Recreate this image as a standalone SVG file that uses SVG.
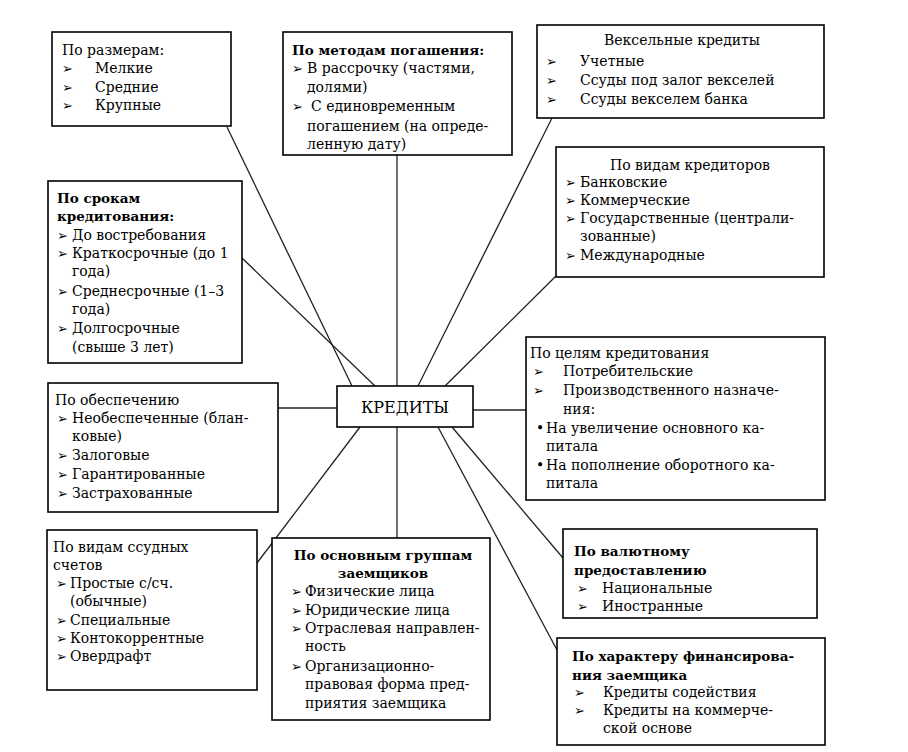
<svg xmlns="http://www.w3.org/2000/svg" width="908" height="752" viewBox="0 0 908 752">
<style>
.box{fill:#fff;stroke:#000;stroke-width:1.6}
.c{stroke:#222;stroke-width:1.3;fill:none}
text{font-family:"DejaVu Serif","Liberation Serif",serif;font-size:14px;fill:#000}
.b{font-weight:bold;font-size:13.5px}
.m{text-anchor:middle}
.ar{font-family:"DejaVu Sans",sans-serif;font-size:13px}
</style>
<rect width="908" height="752" fill="#fff"/>
<g id="connectors">
<line class="c" x1="227" y1="127" x2="352" y2="386"/>
<line class="c" x1="242" y1="258" x2="375" y2="386"/>
<line class="c" x1="397" y1="155" x2="397" y2="386"/>
<line class="c" x1="552" y1="118" x2="418" y2="386"/>
<line class="c" x1="556" y1="276" x2="445" y2="386"/>
<line class="c" x1="473" y1="410" x2="526" y2="410"/>
<line class="c" x1="278" y1="408" x2="337" y2="408"/>
<line class="c" x1="257" y1="563" x2="360" y2="427"/>
<line class="c" x1="397" y1="427" x2="397" y2="538"/>
<line class="c" x1="452" y1="427" x2="563" y2="558"/>
<line class="c" x1="438" y1="427" x2="557" y2="650"/>
</g>
<g id="center">
<rect class="box" x="337" y="386" width="136" height="41"/>
<text class="m" x="405" y="413" style="font-size:16px">КРЕДИТЫ</text>
</g>
<g id="n1">
<rect class="box" x="52" y="32" width="179" height="94"/>
<text x="62" y="55">По размерам:</text>
<text class="ar" x="62" y="73">➢</text><text x="95" y="73">Мелкие</text>
<text class="ar" x="62" y="92">➢</text><text x="95" y="92">Средние</text>
<text class="ar" x="62" y="110">➢</text><text x="95" y="110">Крупные</text>
</g>
<g id="n2">
<rect class="box" x="283" y="32" width="229" height="123"/>
<text class="b" x="292" y="55">По методам погашения:</text>
<text class="ar" x="292" y="73">➢</text><text x="307" y="73">В рассрочку (частями,</text>
<text x="307" y="92">долями)</text>
<text class="ar" x="292" y="111">➢</text><text x="311" y="111">С единовременным</text>
<text x="307" y="131">погашением (на опреде-</text>
<text x="307" y="149">ленную дату)</text>
</g>
<g id="n3">
<rect class="box" x="537" y="25" width="287" height="93"/>
<text class="m" x="682" y="45">Вексельные кредиты</text>
<text class="ar" x="546" y="66">➢</text><text x="580" y="66">Учетные</text>
<text class="ar" x="546" y="85">➢</text><text x="580" y="85">Ссуды под залог векселей</text>
<text class="ar" x="546" y="104">➢</text><text x="580" y="104">Ссуды векселем банка</text>
</g>
<g id="n4">
<rect class="box" x="556" y="147" width="268" height="130"/>
<text class="m" x="690" y="170">По видам кредиторов</text>
<text class="ar" x="565" y="187">➢</text><text x="580" y="187">Банковские</text>
<text class="ar" x="565" y="205">➢</text><text x="580" y="205">Коммерческие</text>
<text class="ar" x="565" y="223">➢</text><text x="580" y="223">Государственные (централи-</text>
<text x="580" y="241">зованные)</text>
<text class="ar" x="565" y="260">➢</text><text x="580" y="260">Международные</text>
</g>
<g id="n5">
<rect class="box" x="48" y="181" width="194" height="182"/>
<text class="b" x="57" y="203">По срокам</text>
<text class="b" x="57" y="221">кредитования:</text>
<text class="ar" x="57" y="240">➢</text><text x="72" y="240">До востребования</text>
<text class="ar" x="57" y="258">➢</text><text x="72" y="258">Краткосрочные (до 1</text>
<text x="72" y="276">года)</text>
<text class="ar" x="57" y="296">➢</text><text x="72" y="296">Среднесрочные (1–3</text>
<text x="72" y="314">года)</text>
<text class="ar" x="57" y="333">➢</text><text x="72" y="333">Долгосрочные</text>
<text x="72" y="352">(свыше 3 лет)</text>
</g>
<g id="n6">
<rect class="box" x="526" y="337" width="299" height="163"/>
<text x="530" y="358">По целям кредитования</text>
<text class="ar" x="533" y="376">➢</text><text x="563" y="376">Потребительские</text>
<text class="ar" x="533" y="395">➢</text><text x="563" y="395">Производственного назначе-</text>
<text x="563" y="414">ния:</text>
<text x="536" y="433">•</text><text x="546" y="433">На увеличение основного  ка-</text>
<text x="546" y="451">питала</text>
<text x="536" y="470">•</text><text x="546" y="470">На пополнение оборотного ка-</text>
<text x="546" y="488">питала</text>
</g>
<g id="n7">
<rect class="box" x="48" y="383" width="230" height="129"/>
<text x="55" y="405">По обеспечению</text>
<text class="ar" x="57" y="423">➢</text><text x="72" y="423">Необеспеченные (блан-</text>
<text x="72" y="441">ковые)</text>
<text class="ar" x="57" y="460">➢</text><text x="72" y="460">Залоговые</text>
<text class="ar" x="57" y="479">➢</text><text x="72" y="479">Гарантированные</text>
<text class="ar" x="57" y="498">➢</text><text x="72" y="498">Застрахованные</text>
</g>
<g id="n8">
<rect class="box" x="47" y="530" width="210" height="160"/>
<text x="53" y="552">По видам ссудных</text>
<text x="53" y="570">счетов</text>
<text class="ar" x="56" y="588">➢</text><text x="70" y="588">Простые с/сч.</text>
<text x="70" y="606">(обычные)</text>
<text class="ar" x="56" y="625">➢</text><text x="70" y="625">Специальные</text>
<text class="ar" x="56" y="643">➢</text><text x="70" y="643">Контокоррентные</text>
<text class="ar" x="56" y="661">➢</text><text x="70" y="661">Овердрафт</text>
</g>
<g id="n9">
<rect class="box" x="272" y="538" width="218" height="182"/>
<text class="b m" x="383" y="560">По основным группам</text>
<text class="b m" x="383" y="578">заемщиков</text>
<text class="ar" x="291" y="596">➢</text><text x="305" y="596">Физические лица</text>
<text class="ar" x="291" y="615">➢</text><text x="305" y="615">Юридические лица</text>
<text class="ar" x="291" y="633">➢</text><text x="305" y="633">Отраслевая направлен-</text>
<text x="305" y="651">ность</text>
<text class="ar" x="291" y="671">➢</text><text x="305" y="671">Организационно-</text>
<text x="305" y="689">правовая форма пред-</text>
<text x="305" y="708">приятия заемщика</text>
</g>
<g id="n10">
<rect class="box" x="563" y="529" width="254" height="89"/>
<text class="b" x="574" y="556">По валютному</text>
<text class="b" x="574" y="575">предоставлению</text>
<text class="ar" x="577" y="593">➢</text><text x="602" y="593">Национальные</text>
<text class="ar" x="577" y="611">➢</text><text x="602" y="611">Иностранные</text>
</g>
<g id="n11">
<rect class="box" x="557" y="638" width="268" height="107"/>
<text class="b" x="572" y="661">По характеру финансирова-</text>
<text class="b" x="572" y="680">ния заемщика</text>
<text class="ar" x="574" y="697">➢</text><text x="603" y="697">Кредиты содействия</text>
<text class="ar" x="574" y="715">➢</text><text x="603" y="715">Кредиты на коммерче-</text>
<text x="603" y="733">ской основе</text>
</g>
</svg>
